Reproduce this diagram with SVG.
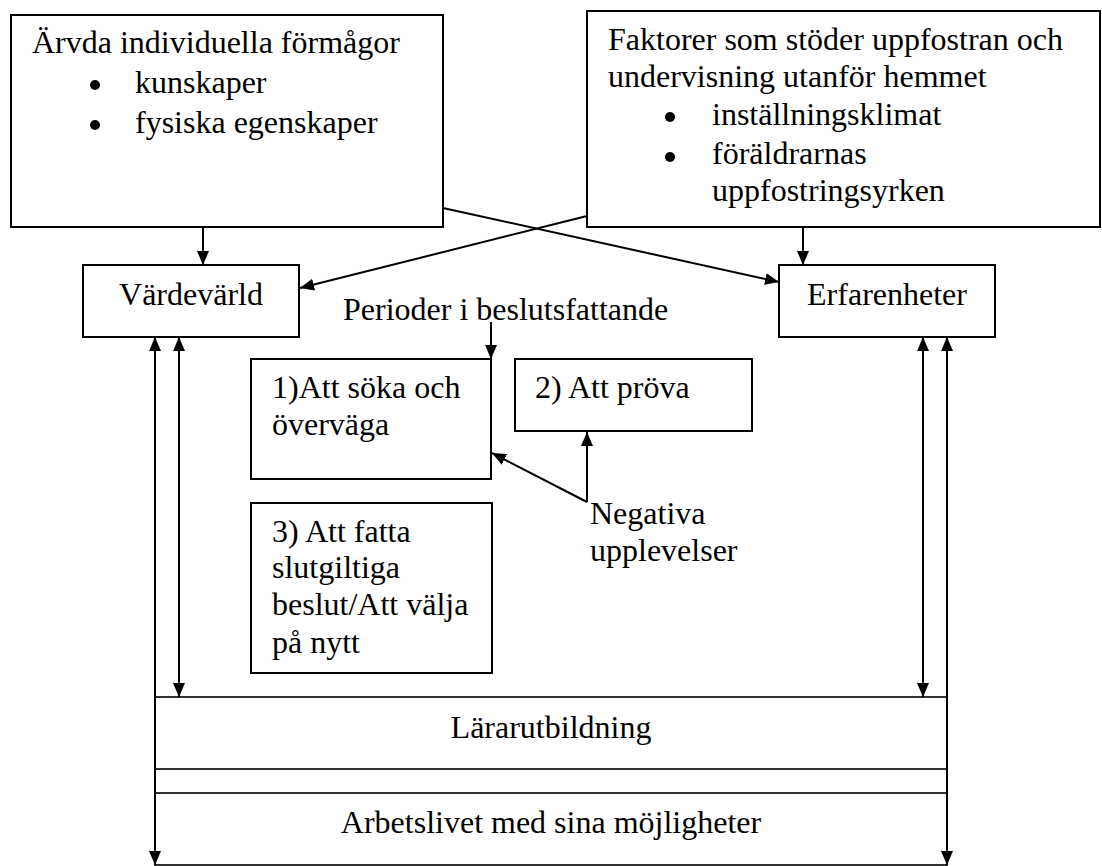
<svg xmlns="http://www.w3.org/2000/svg" width="1102" height="866" viewBox="0 0 1102 866">
<style>
.box{fill:#fff;stroke:#000;stroke-width:2}
.band{fill:none;stroke:#000;stroke-width:1.6}
.t{font-family:"Liberation Serif","Times New Roman",serif;font-size:32px;fill:#000}
.c{text-anchor:middle}
.ln{stroke:#000;stroke-width:2;fill:none}
</style>
<defs>
<marker id="ah" markerUnits="userSpaceOnUse" markerWidth="14" markerHeight="12" refX="14" refY="6" orient="auto-start-reverse">
<path d="M0,0 L14,6 L0,12 z" fill="#000"/>
</marker>
</defs>
<rect width="1102" height="866" fill="#fff"/>

<g id="connectors">
<line class="ln" x1="203" y1="227" x2="203" y2="265" marker-end="url(#ah)"/>
<line class="ln" x1="803" y1="227" x2="803" y2="265" marker-end="url(#ah)"/>
<line class="ln" x1="443" y1="208" x2="779" y2="282" marker-end="url(#ah)"/>
<line class="ln" x1="587" y1="216" x2="300" y2="288" marker-end="url(#ah)"/>
<line class="ln" x1="491" y1="322" x2="491" y2="359" marker-end="url(#ah)"/>
<line class="ln" x1="587" y1="502" x2="587" y2="432" marker-end="url(#ah)"/>
<line class="ln" x1="587" y1="502" x2="492" y2="453" marker-end="url(#ah)"/>
<line class="ln" x1="155" y1="337" x2="155" y2="865" marker-start="url(#ah)" marker-end="url(#ah)"/>
<line class="ln" x1="179" y1="337" x2="179" y2="697" marker-start="url(#ah)" marker-end="url(#ah)"/>
<line class="ln" x1="923" y1="337" x2="923" y2="697" marker-start="url(#ah)" marker-end="url(#ah)"/>
<line class="ln" x1="947" y1="337" x2="947" y2="865" marker-start="url(#ah)" marker-end="url(#ah)"/>
</g>

<g id="arvda">
<rect class="box" x="11" y="15" width="432" height="212"/>
<text class="t" x="32" y="53">Ärvda individuella förmågor</text>
<circle cx="95" cy="85" r="5"/>
<text class="t" x="135" y="93">kunskaper</text>
<circle cx="95" cy="125" r="5"/>
<text class="t" x="135" y="133">fysiska egenskaper</text>
</g>

<g id="faktorer">
<rect class="box" x="587" y="11" width="513" height="216"/>
<text class="t" x="608" y="50">Faktorer som stöder uppfostran och</text>
<text class="t" x="608" y="87">undervisning utanför hemmet</text>
<circle cx="670" cy="117" r="5"/>
<text class="t" x="712" y="125">inställningsklimat</text>
<circle cx="670" cy="157" r="5"/>
<text class="t" x="712" y="164">föräldrarnas</text>
<text class="t" x="712" y="201">uppfostringsyrken</text>
</g>

<g id="vardevarld">
<rect class="box" x="83" y="265" width="216" height="72"/>
<text class="t c" x="191" y="305">Värdevärld</text>
</g>

<g id="erfarenheter">
<rect class="box" x="779" y="265" width="216" height="72"/>
<text class="t c" x="887" y="305">Erfarenheter</text>
</g>

<g id="perioder">
<text class="t" x="343" y="320">Perioder i beslutsfattande</text>
</g>

<g id="steg1">
<rect class="box" x="251" y="359" width="240" height="120"/>
<text class="t" x="272" y="398">1)Att söka och</text>
<text class="t" x="272" y="435">överväga</text>
</g>

<g id="steg2">
<rect class="box" x="515" y="359" width="237" height="72"/>
<text class="t" x="535" y="398">2) Att pröva</text>
</g>

<g id="negativa">
<text class="t" x="590" y="524">Negativa</text>
<text class="t" x="590" y="561">upplevelser</text>
</g>

<g id="steg3">
<rect class="box" x="251" y="503" width="241" height="170"/>
<text class="t" x="272" y="542">3) Att fatta</text>
<text class="t" x="272" y="578">slutgiltiga</text>
<text class="t" x="272" y="615">beslut/Att välja</text>
<text class="t" x="272" y="653">på nytt</text>
</g>

<g id="lararutbildning">
<rect class="band" x="155" y="697" width="792" height="72"/>
<text class="t c" x="551" y="738">Lärarutbildning</text>
</g>

<g id="arbetslivet">
<rect class="band" x="155" y="793" width="792" height="72"/>
<text class="t c" x="551" y="833">Arbetslivet med sina möjligheter</text>
</g>
</svg>
